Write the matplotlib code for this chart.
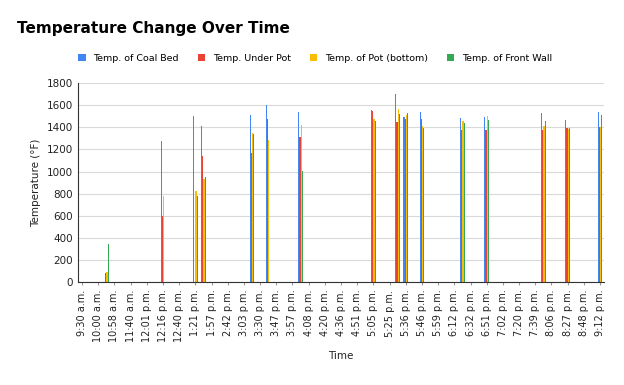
import matplotlib.pyplot as plt
import numpy as np

# time labels shown on the axis (every other row of the sheet)
tick_labels = ["9:30 a.m.", "10:00 a.m.", "10:58 a.m.", "11:40 a.m.", "12:01 p.m.",
               "12:16 p.m.", "12:40 p.m.", "1:21 p.m.", "1:57 p.m.", "2:42 p.m.",
               "3:03 p.m.", "3:30 p.m.", "3:47 p.m.", "3:57 p.m.", "4:08 p.m.",
               "4:20 p.m.", "4:36 p.m.", "4:51 p.m.", "5:05 p.m.", "5:25 p.m.",
               "5:36 p.m.", "5:46 p.m.", "5:59 p.m.", "6:12 p.m.", "6:32 p.m.",
               "6:51 p.m.", "7:02 p.m.", "7:20 p.m.", "7:39 p.m.", "8:06 p.m.",
               "8:27 p.m.", "8:48 p.m.", "9:12 p.m."]
n_rows = 65

# rows (0-based) that hold readings
rows = [3, 10, 14, 15, 21, 23, 27, 36, 39, 40, 42, 47, 50, 57, 60, 64]

coal_bed = [0, 1272, 1505, 1414, 1508, 1598, 1541, 1559, 1700, 1490, 1538, 1489, 1498, 1530, 1468, 1538]
under_pot = [80, 600, 0, 1137, 1167, 1480, 1312, 1544, 1444, 1480, 1477, 1378, 1378, 1378, 1393, 1399]
pot_bottom = [95, 775, 826, 930, 1348, 1287, 1423, 1474, 1565, 1510, 1408, 1453, 1504, 1408, 1384, 1400]
front_wall = [345, 0, 775, 947, 1339, 0, 1001, 1462, 1519, 1530, 1393, 1438, 1468, 1453, 1390, 1513]

series = [("Temp. of Coal Bed", coal_bed, "#4285F4"),
          ("Temp. Under Pot", under_pot, "#EA4335"),
          ("Temp. of Pot (bottom)", pot_bottom, "#FBBC04"),
          ("Temp. of Front Wall", front_wall, "#34A853")]

fig = plt.figure(figsize=(6.24, 3.85), dpi=100)
ax = fig.add_axes([0.125, 0.2675, 0.843, 0.5165])

x = np.array(rows)
w = 0.15
for i, (name, vals, col) in enumerate(series):
    ax.bar(x + (i - 1.5) * w, vals, width=w, color=col, label=name, linewidth=0)

ax.set_xlim(-0.5, n_rows - 0.5)
ax.set_ylim(0, 1800)
ax.set_yticks(range(0, 1801, 200))
ax.set_xticks(range(0, n_rows, 2))
ax.set_xticklabels(tick_labels, rotation=90, fontsize=7, color="#222222")
ax.tick_params(axis="y", labelsize=7.5, length=0, colors="#222222")
ax.tick_params(axis="x", length=2, color="#999999")
ax.grid(axis="y", color="#d9d9d9", linewidth=0.8)
ax.set_axisbelow(True)
for s in ["top", "right"]:
    ax.spines[s].set_visible(False)
ax.spines["left"].set_color("#333333")
ax.spines["bottom"].set_color("#333333")

ax.set_ylabel("Temperature (°F)", fontsize=7.5, color="#222222")
ax.set_xlabel("Time", fontsize=7.5, color="#222222", labelpad=6)

fig.text(0.028, 0.915, "Temperature Change Over Time", fontsize=11,
         fontweight="bold", color="#000000")
fig.legend(loc="center", bbox_to_anchor=(0.505, 0.848), ncol=4, frameon=False,
           fontsize=6.8, handlelength=0.8, handleheight=0.8, columnspacing=2.0,
           handletextpad=0.8)

fig.savefig("out.png", dpi=100)
